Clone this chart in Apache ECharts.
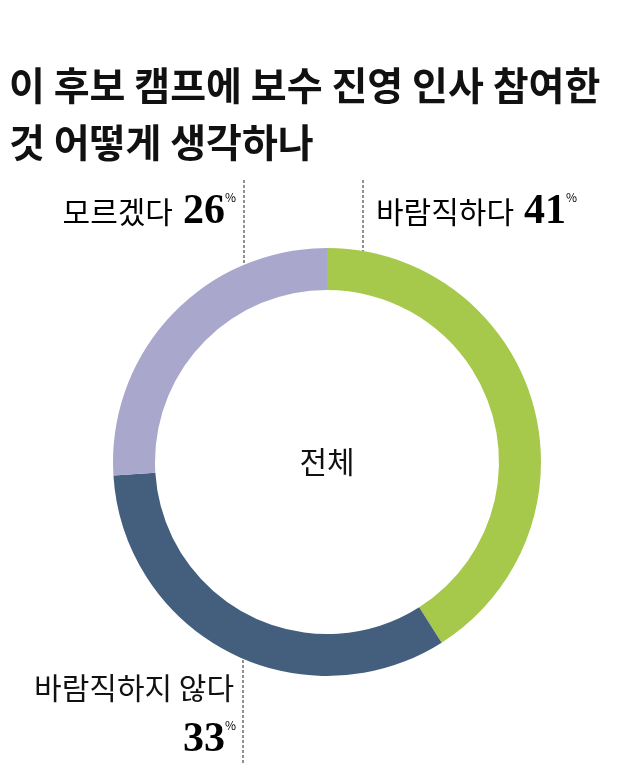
<!DOCTYPE html>
<html><head><meta charset="utf-8">
<script src="https://cdn.jsdelivr.net/npm/echarts@6/dist/echarts.min.js"></script>
<style>html,body{margin:0;padding:0;background:#fff}#chart{width:640px;height:771px}</style>
</head><body><div id="chart"></div>
<script>
const categories = ['바람직하다', '바람직하지 않다', '모르겠다'];
const values = [41, 33, 26];
const colors = ['#a7c94b', '#445f7e', '#aaa7cd'];
const titleLines = ['이 후보 캠프에 보수 진영 인사 참여한', '것 어떻게 생각하나'];
const centerLabel = '전체';

const chart = echarts.init(document.getElementById('chart'));
const font = '"Noto Sans CJK KR", sans-serif';
const rich = {
    n: { fontFamily: 'Liberation Serif, serif', fontWeight: 'bold', fontSize: 42, color: '#111', padding: [0, -2, 0, 0] },
    p: { fontFamily: font, fontSize: 12, color: '#111', verticalAlign: 'top', padding: [0, 0, 18, 2] },
    t: { fontFamily: font, fontSize: 30, color: '#111', padding: [0, 10, 0, 0] }
};
function label(i, withName) {
    return (withName ? `{t|${categories[i]}}` : '') + `{n|${values[i]}}{p|%}`;
}
function dash(x, y1, y2) {
    return { type: 'line', shape: { x1: x, y1: y1, x2: x, y2: y2 },
        style: { stroke: '#222', lineWidth: 1, lineDash: [3, 2] } };
}
chart.setOption({
    title: {
        text: titleLines.join('\n'), left: 4, top: 52,
        textStyle: { fontFamily: font, fontWeight: 'bold', fontSize: 39, color: '#111', lineHeight: 57 }
    },
    series: [{
        type: 'pie', center: [327, 462], radius: [172, 214], startAngle: 90, clockwise: true,
        silent: true, label: { show: false }, labelLine: { show: false },
        data: values.map((v, i) => ({ value: v, name: categories[i], itemStyle: { color: colors[i] } }))
    }],
    graphic: [
        { type: 'text', x: 327, y: 462, style: { text: centerLabel, font: '30px ' + font, fill: '#111', align: 'center', verticalAlign: 'middle' } },
        dash(244, 180, 288), dash(363, 180, 288), dash(243, 615, 765),
        { type: 'text', x: 236, y: 212, style: { text: label(2, true), rich: rich, align: 'right', verticalAlign: 'middle' } },
        { type: 'text', x: 376, y: 212, style: { text: label(0, true), rich: rich, align: 'left', verticalAlign: 'middle' } },
        { type: 'text', x: 234, y: 688, style: { text: categories[1], font: '30px ' + font, fill: '#111', align: 'right', verticalAlign: 'middle' } },
        { type: 'text', x: 236, y: 740, style: { text: label(1, false), rich: rich, align: 'right', verticalAlign: 'middle' } }
    ]
});
</script></body></html>
